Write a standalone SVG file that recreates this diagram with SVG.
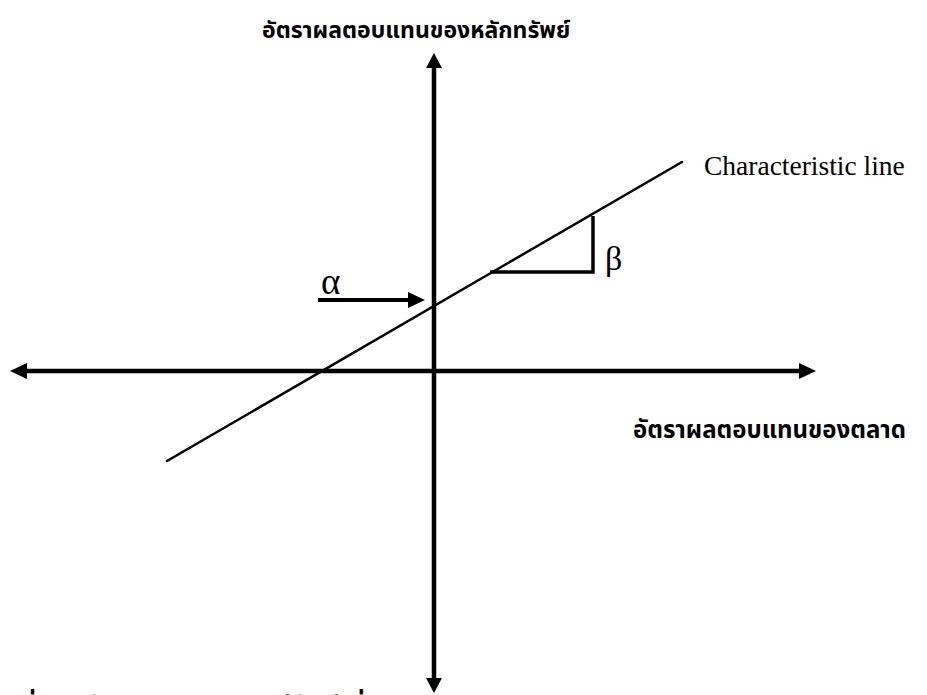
<svg xmlns="http://www.w3.org/2000/svg" width="927" height="695" viewBox="0 0 927 695">
  <style>
    .thai { font-family: "Noto Sans Thai", "Noto Sans", "DejaVu Sans", sans-serif; font-weight: bold; fill: #000; }
    .serif { font-family: "Liberation Serif", "Times New Roman", serif; fill: #000; }
    .axis { stroke: #000; stroke-width: 4.5; fill: none; }
    .thin { stroke: #000; stroke-width: 2.5; fill: none; stroke-linecap: round; }
    .head { fill: #000; }
  </style>
  <rect width="927" height="695" fill="#fff"/>
  <g id="connectors">
    <g id="y-axis">
      <line class="axis" x1="434" y1="64" x2="434" y2="682"/>
      <polygon class="head" points="434,53 426,68 442,68"/>
      <polygon class="head" points="434,693 426,678 442,678"/>
    </g>
    <g id="x-axis">
      <line class="axis" x1="22" y1="371" x2="804" y2="371"/>
      <polygon class="head" points="10,371 27,363 27,379"/>
      <polygon class="head" points="816,371 799,363 799,379"/>
    </g>
    <g id="characteristic-line">
      <line class="thin" x1="167" y1="461" x2="682" y2="162"/>
    </g>
    <g id="alpha-arrow">
      <line stroke="#000" stroke-width="4" x1="318" y1="300" x2="412" y2="300"/>
      <polygon class="head" points="425,300 408,292 408,308"/>
    </g>
    <g id="beta-triangle">
      <polyline fill="none" stroke="#000" stroke-width="3.5" points="490,272 593,272 593,216"/>
    </g>
  </g>
  <g id="title">
    <text class="thai" x="262" y="38" font-size="23">อัตราผลตอบแทนของหลักทรัพย์</text>
  </g>
  <g id="x-label">
    <text class="thai" x="633" y="438" font-size="24">อัตราผลตอบแทนของตลาด</text>
  </g>
  <g id="line-label">
    <text class="serif" x="704" y="175" font-size="27.5">Characteristic line</text>
  </g>
  <g id="alpha">
    <text class="serif" x="321" y="294" font-size="37">α</text>
  </g>
  <g id="beta">
    <text class="serif" x="605" y="270" font-size="34">β</text>
  </g>
  <g id="source-note">
    <text class="thai" x="20" y="716" font-size="26">ที่มา : ดัดแปลงจากทฤษฎีดัชนีเดี่ยว</text>
  </g>
</svg>
